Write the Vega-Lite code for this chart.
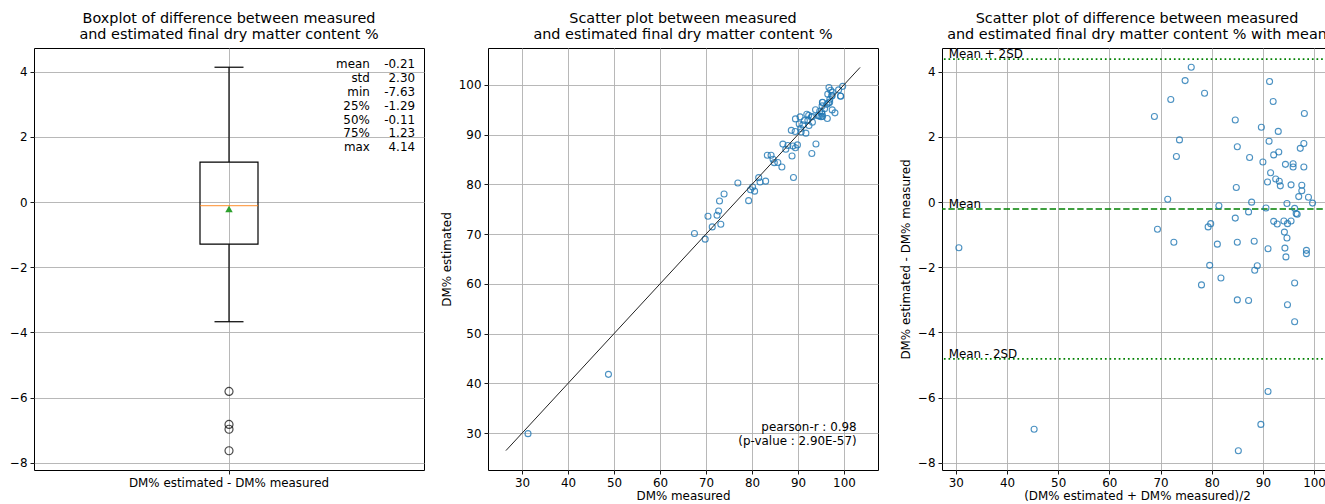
{
  "$schema": "https://vega.github.io/schema/vega-lite/v6.json",
  "padding": {"left": 8, "top": 10, "right": 0, "bottom": 0},
  "spacing": 64,
  "bounds": "flush",
  "datasets": {
    "pts": [
      {"measured": 73.93, "estimated": 78.07, "avg": 76.0, "diff": 4.14},
      {"measured": 72.94, "estimated": 76.67, "avg": 74.8, "diff": 3.73},
      {"measured": 70.43, "estimated": 73.58, "avg": 72.0, "diff": 3.15},
      {"measured": 76.93, "estimated": 80.27, "avg": 78.6, "diff": 3.34},
      {"measured": 67.49, "estimated": 70.12, "avg": 68.8, "diff": 2.63},
      {"measured": 72.75, "estimated": 74.66, "avg": 73.7, "diff": 1.91},
      {"measured": 72.40, "estimated": 73.80, "avg": 73.1, "diff": 1.40},
      {"measured": 71.36, "estimated": 71.45, "avg": 71.4, "diff": 0.09},
      {"measured": 69.82, "estimated": 68.99, "avg": 69.4, "diff": -0.83},
      {"measured": 73.22, "estimated": 71.99, "avg": 72.6, "diff": -1.23},
      {"measured": 31.30, "estimated": 29.90, "avg": 30.6, "diff": -1.40},
      {"measured": 81.46, "estimated": 81.35, "avg": 81.4, "diff": -0.11},
      {"measured": 79.68, "estimated": 78.92, "avg": 79.3, "diff": -0.76},
      {"measured": 80.13, "estimated": 79.47, "avg": 79.8, "diff": -0.66},
      {"measured": 81.75, "estimated": 80.46, "avg": 81.1, "diff": -1.29},
      {"measured": 83.34, "estimated": 85.86, "avg": 84.6, "diff": 2.52},
      {"measured": 84.15, "estimated": 85.85, "avg": 85.0, "diff": 1.70},
      {"measured": 84.58, "estimated": 85.03, "avg": 84.8, "diff": 0.45},
      {"measured": 84.85, "estimated": 84.36, "avg": 84.6, "diff": -0.49},
      {"measured": 85.62, "estimated": 84.39, "avg": 85.0, "diff": -1.23},
      {"measured": 86.72, "estimated": 88.09, "avg": 87.4, "diff": 1.37},
      {"measured": 87.80, "estimated": 87.80, "avg": 87.8, "diff": 0.00},
      {"measured": 87.35, "estimated": 87.05, "avg": 87.2, "diff": -0.30},
      {"measured": 88.90, "estimated": 87.70, "avg": 88.3, "diff": -1.20},
      {"measured": 88.55, "estimated": 90.85, "avg": 89.7, "diff": 2.30},
      {"measured": 89.39, "estimated": 90.62, "avg": 90.0, "diff": 1.23},
      {"measured": 89.45, "estimated": 93.15, "avg": 91.3, "diff": 3.70},
      {"measured": 90.46, "estimated": 93.55, "avg": 92.0, "diff": 3.09},
      {"measured": 90.27, "estimated": 92.14, "avg": 91.2, "diff": 1.87},
      {"measured": 91.92, "estimated": 94.09, "avg": 93.0, "diff": 2.17},
      {"measured": 91.38, "estimated": 92.83, "avg": 92.1, "diff": 1.45},
      {"measured": 92.33, "estimated": 93.87, "avg": 93.1, "diff": 1.54},
      {"measured": 91.05, "estimated": 91.95, "avg": 91.5, "diff": 0.90},
      {"measured": 90.59, "estimated": 91.21, "avg": 90.9, "diff": 0.62},
      {"measured": 92.15, "estimated": 92.86, "avg": 92.5, "diff": 0.71},
      {"measured": 92.88, "estimated": 93.52, "avg": 93.2, "diff": 0.64},
      {"measured": 93.15, "estimated": 93.65, "avg": 93.4, "diff": 0.50},
      {"measured": 90.69, "estimated": 90.51, "avg": 90.6, "diff": -0.18},
      {"measured": 92.40, "estimated": 91.81, "avg": 92.1, "diff": -0.59},
      {"measured": 93.14, "estimated": 92.47, "avg": 92.8, "diff": -0.67},
      {"measured": 91.72, "estimated": 90.29, "avg": 91.0, "diff": -1.43},
      {"measured": 93.82, "estimated": 94.98, "avg": 94.4, "diff": 1.16},
      {"measured": 95.31, "estimated": 96.49, "avg": 95.9, "diff": 1.18},
      {"measured": 95.36, "estimated": 96.44, "avg": 95.9, "diff": 1.08},
      {"measured": 95.24, "estimated": 95.77, "avg": 95.5, "diff": 0.53},
      {"measured": 94.72, "estimated": 94.68, "avg": 94.7, "diff": -0.04},
      {"measured": 94.39, "estimated": 93.81, "avg": 94.1, "diff": -0.58},
      {"measured": 95.13, "estimated": 94.47, "avg": 94.8, "diff": -0.66},
      {"measured": 95.79, "estimated": 95.21, "avg": 95.5, "diff": -0.58},
      {"measured": 94.66, "estimated": 93.74, "avg": 94.2, "diff": -0.92},
      {"measured": 95.25, "estimated": 94.15, "avg": 94.7, "diff": -1.10},
      {"measured": 95.01, "estimated": 93.60, "avg": 94.3, "diff": -1.41},
      {"measured": 96.30, "estimated": 96.11, "avg": 96.2, "diff": -0.19},
      {"measured": 96.68, "estimated": 96.33, "avg": 96.5, "diff": -0.35},
      {"measured": 96.89, "estimated": 96.52, "avg": 96.7, "diff": -0.37},
      {"measured": 96.48, "estimated": 98.13, "avg": 97.3, "diff": 1.65},
      {"measured": 97.10, "estimated": 98.90, "avg": 98.0, "diff": 1.80},
      {"measured": 96.74, "estimated": 99.46, "avg": 98.1, "diff": 2.72},
      {"measured": 97.46, "estimated": 98.54, "avg": 98.0, "diff": 1.08},
      {"measured": 97.34, "estimated": 97.86, "avg": 97.6, "diff": 0.52},
      {"measured": 97.43, "estimated": 97.78, "avg": 97.6, "diff": 0.35},
      {"measured": 96.92, "estimated": 97.09, "avg": 97.0, "diff": 0.17},
      {"measured": 98.83, "estimated": 98.98, "avg": 98.9, "diff": 0.15},
      {"measured": 99.72, "estimated": 99.69, "avg": 99.7, "diff": -0.03},
      {"measured": 99.24, "estimated": 97.76, "avg": 98.5, "diff": -1.48},
      {"measured": 80.57, "estimated": 78.63, "avg": 79.6, "diff": -1.94},
      {"measured": 82.97, "estimated": 80.64, "avg": 81.8, "diff": -2.33},
      {"measured": 79.27, "estimated": 76.73, "avg": 78.0, "diff": -2.54},
      {"measured": 86.50, "estimated": 83.50, "avg": 85.0, "diff": -3.00},
      {"measured": 88.71, "estimated": 85.69, "avg": 87.2, "diff": -3.02},
      {"measured": 89.45, "estimated": 87.36, "avg": 88.4, "diff": -2.09},
      {"measured": 89.88, "estimated": 87.93, "avg": 88.9, "diff": -1.95},
      {"measured": 95.34, "estimated": 93.66, "avg": 94.5, "diff": -1.68},
      {"measured": 97.44, "estimated": 94.96, "avg": 96.2, "diff": -2.48},
      {"measured": 96.38, "estimated": 93.23, "avg": 94.8, "diff": -3.15},
      {"measured": 98.04, "estimated": 94.37, "avg": 96.2, "diff": -3.67},
      {"measured": 99.29, "estimated": 97.71, "avg": 98.5, "diff": -1.58},
      {"measured": 93.91, "estimated": 88.10, "avg": 91.0, "diff": -5.81},
      {"measured": 93.01, "estimated": 86.19, "avg": 89.6, "diff": -6.82},
      {"measured": 89.02, "estimated": 81.39, "avg": 85.2, "diff": -7.63},
      {"measured": 48.79, "estimated": 41.82, "avg": 45.3, "diff": -6.97}
    ],
    "stats": [
      {"labels": ["mean", "std", "min", "25%", "50%", "75%", "max"],
       "values": ["-0.21", "2.30", "-7.63", "-1.29", "-0.11", "1.23", "4.14"]}
    ],
    "pearson": [
      {"lines": ["pearson-r : 0.98", "(p-value : 2.90E-57)"]}
    ],
    "fitline": [
      {"v": 26.5},
      {"v": 103.5}
    ],
    "limits": [
      {"kind": "sd", "label": "Mean + 2SD", "value": 4.39},
      {"kind": "mean", "label": "Mean", "value": -0.21},
      {"kind": "sd", "label": "Mean - 2SD", "value": -4.81}
    ]
  },
  "hconcat": [
    {
      "width": 390,
      "height": 422,
      "title": {"text": ["Boxplot of difference between measured", "and estimated final dry matter content %"]},
      "layer": [
        {
          "data": {"name": "pts"},
          "transform": [{"fold": ["diff"], "as": ["variable", "value"]}],
          "mark": {
            "type": "boxplot",
            "extent": 1.5,
            "size": 58,
            "box": {"fill": "transparent", "stroke": "black", "strokeWidth": 1.2},
            "median": {"color": "#ff7f0e", "thickness": 1.3},
            "rule": {"color": "black", "strokeWidth": 1.2},
            "ticks": {"color": "black", "size": 29, "thickness": 1.2},
            "outliers": {"filled": false, "color": "black", "size": 64, "strokeWidth": 1.2}
          },
          "encoding": {
            "x": {"field": "variable", "type": "nominal", "title": null,
                  "axis": {"labelExpr": "'DM% estimated - DM% measured'", "labelAngle": 0, "labelLimit": 400, "grid": true}},
            "y": {"field": "value", "type": "quantitative", "title": null,
                  "scale": {"domain": [-8.22, 4.73], "nice": false, "zero": false},
                  "axis": {"values": [-8, -6, -4, -2, 0, 2, 4]}}
          }
        },
        {
          "data": {"name": "pts"},
          "transform": [{"fold": ["diff"], "as": ["variable", "value"]}],
          "mark": {"type": "point", "shape": "triangle-up", "filled": true, "color": "#2ca02c", "size": 56, "opacity": 1},
          "encoding": {
            "x": {"field": "variable", "type": "nominal", "axis": null},
            "y": {"aggregate": "mean", "field": "value", "type": "quantitative"}
          }
        },
        {
          "data": {"name": "stats"},
          "mark": {"type": "text", "align": "right", "baseline": "top", "fontSize": 11.9, "lineHeight": 13.8, "color": "black"},
          "encoding": {
            "x": {"datum": 1.361, "type": "quantitative", "scale": {"domain": [0.5, 1.5]}, "axis": null},
            "y": {"datum": 4.38, "type": "quantitative"},
            "text": {"field": "labels"}
          }
        },
        {
          "data": {"name": "stats"},
          "mark": {"type": "text", "align": "right", "baseline": "top", "fontSize": 11.9, "lineHeight": 13.8, "color": "black"},
          "encoding": {
            "x": {"datum": 1.477, "type": "quantitative", "scale": {"domain": [0.5, 1.5]}, "axis": null},
            "y": {"datum": 4.38, "type": "quantitative"},
            "text": {"field": "values"}
          }
        }
      ],
      "resolve": {"scale": {"x": "independent"}, "axis": {"x": "independent"}}
    },
    {
      "width": 390,
      "height": 422,
      "title": {"text": ["Scatter plot between measured", "and estimated final dry matter content %"]},
      "layer": [
        {
          "data": {"name": "pts"},
          "mark": {"type": "point", "filled": false, "stroke": "#1f77b4", "strokeWidth": 1.1, "size": 36, "opacity": 0.8},
          "encoding": {
            "x": {"field": "measured", "type": "quantitative", "title": "DM% measured",
                  "scale": {"domain": [22.6, 107.4], "nice": false, "zero": false},
                  "axis": {"values": [30, 40, 50, 60, 70, 80, 90, 100]}},
            "y": {"field": "estimated", "type": "quantitative", "title": "DM% estimated",
                  "scale": {"domain": [22.6, 107.4], "nice": false, "zero": false},
                  "axis": {"values": [30, 40, 50, 60, 70, 80, 90, 100]}}
          }
        },
        {
          "data": {"name": "fitline"},
          "mark": {"type": "line", "color": "#222222", "strokeWidth": 1},
          "encoding": {
            "x": {"field": "v", "type": "quantitative"},
            "y": {"field": "v", "type": "quantitative"}
          }
        },
        {
          "data": {"name": "pearson"},
          "mark": {"type": "text", "align": "right", "baseline": "top", "fontSize": 11.9, "lineHeight": 13.8, "color": "black"},
          "encoding": {
            "x": {"datum": 102.75, "type": "quantitative"},
            "y": {"datum": 32.2, "type": "quantitative"},
            "text": {"field": "lines"}
          }
        }
      ]
    },
    {
      "width": 390,
      "height": 422,
      "title": {"text": ["Scatter plot of difference between measured", "and estimated final dry matter content % with mean"]},
      "layer": [
        {
          "data": {"name": "limits"},
          "mark": {"type": "rule", "color": "#008000", "strokeWidth": 1.7},
          "encoding": {
            "y": {"field": "value", "type": "quantitative"},
            "strokeDash": {"field": "kind", "type": "nominal", "legend": null,
                           "scale": {"domain": ["mean", "sd"], "range": [[6.4, 2.8], [1.7, 2.9]]}}
          }
        },
        {
          "data": {"name": "limits"},
          "mark": {"type": "text", "align": "left", "baseline": "alphabetic", "fontSize": 11.9, "color": "black", "dy": -1},
          "encoding": {
            "x": {"datum": 28.6, "type": "quantitative"},
            "y": {"field": "value", "type": "quantitative"},
            "text": {"field": "label"}
          }
        },
        {
          "data": {"name": "pts"},
          "mark": {"type": "point", "filled": false, "stroke": "#1f77b4", "strokeWidth": 1.1, "size": 36, "opacity": 0.8},
          "encoding": {
            "x": {"field": "avg", "type": "quantitative", "title": "(DM% estimated + DM% measured)/2",
                  "scale": {"domain": [27.3, 103.5], "nice": false, "zero": false},
                  "axis": {"values": [30, 40, 50, 60, 70, 80, 90, 100]}},
            "y": {"field": "diff", "type": "quantitative", "title": "DM% estimated - DM% measured",
                  "scale": {"domain": [-8.22, 4.73], "nice": false, "zero": false},
                  "axis": {"values": [-8, -6, -4, -2, 0, 2, 4]}}
          }
        }
      ]
    }
  ],
  "config": {
    "font": "DejaVu Sans",
    "view": {"stroke": "black", "strokeWidth": 1},
    "axis": {
      "domain": false, "grid": true, "gridColor": "#b0b0b0", "gridWidth": 0.9,
      "tickColor": "black", "tickSize": 4, "tickWidth": 0.9,
      "labelColor": "black", "labelFontSize": 11.9, "labelFont": "DejaVu Sans", "labelPadding": 3,
      "titleFontSize": 11.9, "titleFontWeight": "normal", "titleColor": "black", "titleFont": "DejaVu Sans", "titlePadding": 3
    },
    "axisY": {"titlePadding": 6},
    "title": {"fontSize": 14.4, "fontWeight": "normal", "color": "black", "lineHeight": 16, "offset": 6, "font": "DejaVu Sans", "frame": "group", "anchor": "middle"}
  }
}
